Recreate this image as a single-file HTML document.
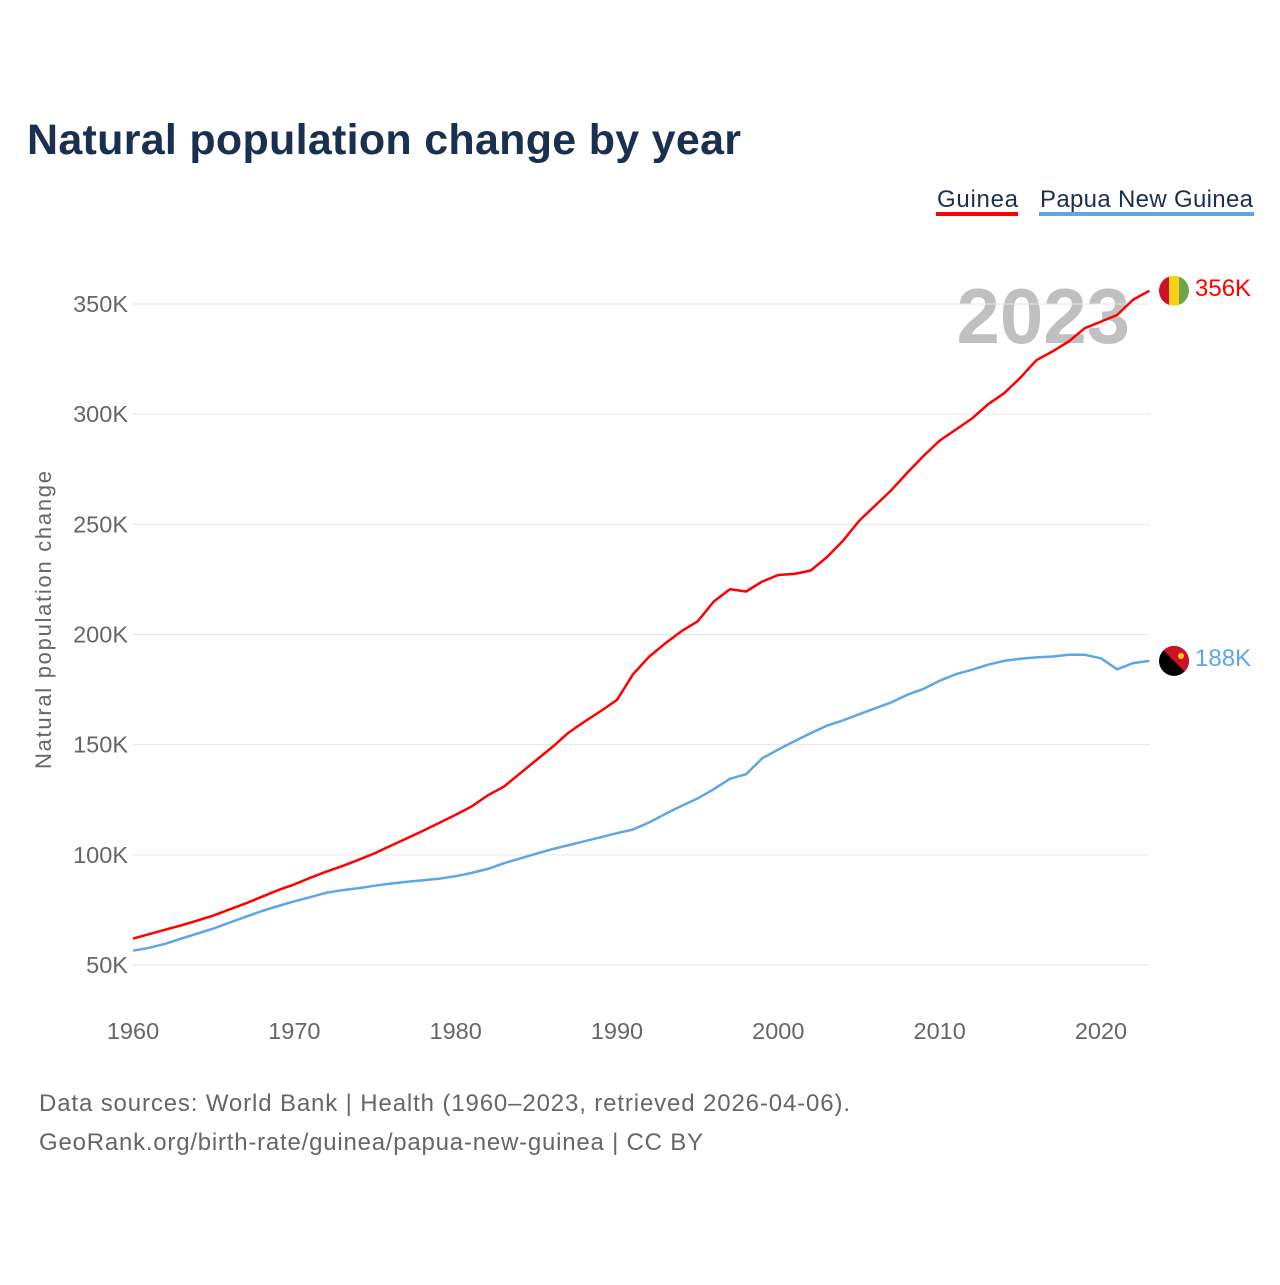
<!DOCTYPE html>
<html><head><meta charset="utf-8"><style>
body{margin:0;background:#fff;width:1280px;height:1280px;overflow:hidden;font-family:"Liberation Sans",sans-serif}
</style></head><body>
<svg width="1280" height="1280">
<defs><clipPath id="c2"><circle id="c2c" cx="1174" cy="0" r="15"/></clipPath><clipPath id="c1"><circle id="c1c" cx="1174" cy="0" r="15"/></clipPath></defs>
<text x="27" y="154" font-size="43" font-weight="bold" fill="#1a3050" textLength="714">Natural population change by year</text>
<g>
<text x="937" y="207" font-size="24" fill="#1a3050" textLength="81">Guinea</text>
<rect x="936" y="212" width="82" height="4" fill="#ff0000"/>
<text x="1040" y="207" font-size="24" fill="#1a3050" textLength="213">Papua New Guinea</text>
<rect x="1039" y="212" width="215" height="4" fill="#5fa6e8"/>
</g>
<text x="1130" y="343" font-size="78" font-weight="bold" fill="#c0c0c0" text-anchor="end">2023</text>
<g id="grid"></g><g id="lines"></g>
<text transform="translate(51,620) rotate(-90)" font-size="22" fill="#666" text-anchor="middle" textLength="298">Natural population change</text>
<text x="39" y="1111" font-size="24" fill="#666" textLength="811">Data sources: World Bank | Health (1960–2023, retrieved 2026-04-06).</text>
<text x="39" y="1150" font-size="24" fill="#666" textLength="664">GeoRank.org/birth-rate/guinea/papua-new-guinea | CC BY</text>
</svg>
<script>
const years=[];for(let y=1960;y<=2023;y++)years.push(y);
const guinea=[62,64,66,68,70.2,72.5,75.3,78,81,84,86.6,89.6,92.4,95,97.8,100.8,104.2,107.6,111,114.6,118.2,122,127,131,137,143,149,155.5,160.5,165.3,170.3,182,190,196,201.5,206,215,220.5,219.5,224,227,227.5,229,235,242.5,251.5,258.5,265.5,273.5,281,288,293,298,304.5,309.5,316.5,324.5,328.5,333,339,342,345,352,356];
const png=[56.5,57.8,59.6,62,64.3,66.6,69.3,71.9,74.5,76.8,78.9,80.8,82.8,84,84.9,86,87,87.8,88.5,89.2,90.3,91.8,93.6,96.2,98.4,100.5,102.6,104.4,106.2,108,109.8,111.5,114.7,118.6,122.2,125.6,129.8,134.5,136.6,143.8,147.8,151.6,155.2,158.6,161,163.8,166.5,169.2,172.7,175.3,179,182,184,186.3,188,189,189.6,190,190.8,190.8,189.2,184.2,187,188];
const yTicks=[50,100,150,200,250,300,350];
const xTicks=[1960,1970,1980,1990,2000,2010,2020];
const X=y=>133+(y-1960)*16.133, Y=v=>965-(v-50)*2.2033;
const NS="http://www.w3.org/2000/svg";
function mk(t,a,p){const e=document.createElementNS(NS,t);for(const k in a)e.setAttribute(k,a[k]);p.appendChild(e);return e;}
const grid=document.getElementById('grid'),lines=document.getElementById('lines');
yTicks.forEach(v=>{
 const l=mk('line',{x1:133,x2:1150,y1:Y(v),y2:Y(v),stroke:'#e6e6e6','stroke-width':1},grid);
 
 
 const t=mk('text',{x:128,y:Y(v)+8,'font-size':23.5,fill:'#666','text-anchor':'end'},grid);t.textContent=v+'K';
 
 
});
xTicks.forEach(v=>{
 const t=mk('text',{x:X(v),y:1039,'font-size':23.5,fill:'#666','text-anchor':'middle'},grid);t.textContent=v;
 
 
});
function series(d,c,name){
 const p=mk('path',{d:d.map((v,i)=>(i?'L':'M')+X(years[i]).toFixed(1)+','+Y(v).toFixed(1)).join(''),fill:'none',stroke:c,'stroke-width':2.5,'stroke-linejoin':'round'},lines);
 
 
 const v=d[d.length-1],y=Y(v);
 const t=mk('text',{x:1195,y:y+5,'font-size':24,fill:c},lines);t.textContent=Math.round(v)+'K';
 
 
 return y;
}
const gy=series(guinea,'#ff0000','guinea');
const py=series(png,'#5fa6e8','png');
document.getElementById('c1c').setAttribute('cy',gy);
document.getElementById('c2c').setAttribute('cy',py);
const fg=mk('g',{'clip-path':'url(#c1)'},lines);


[['#ce1126',0],['#fcd116',10],['#6ea648',20]].forEach(([c,o])=>mk('rect',{x:1159+o,y:gy-15,width:10,height:30,fill:c},fg));
const pg=mk('g',{'clip-path':'url(#c2)'},lines);


mk('rect',{x:1159,y:py-15,width:30,height:30,fill:'#000'},pg);
mk('path',{d:`M1159 ${py-15}H1189V${py+15}Z`,fill:'#ce1126'},pg);
mk('circle',{cx:1181,cy:py-5,r:3,fill:'#fcd116'},pg);
</script>
</body></html>
